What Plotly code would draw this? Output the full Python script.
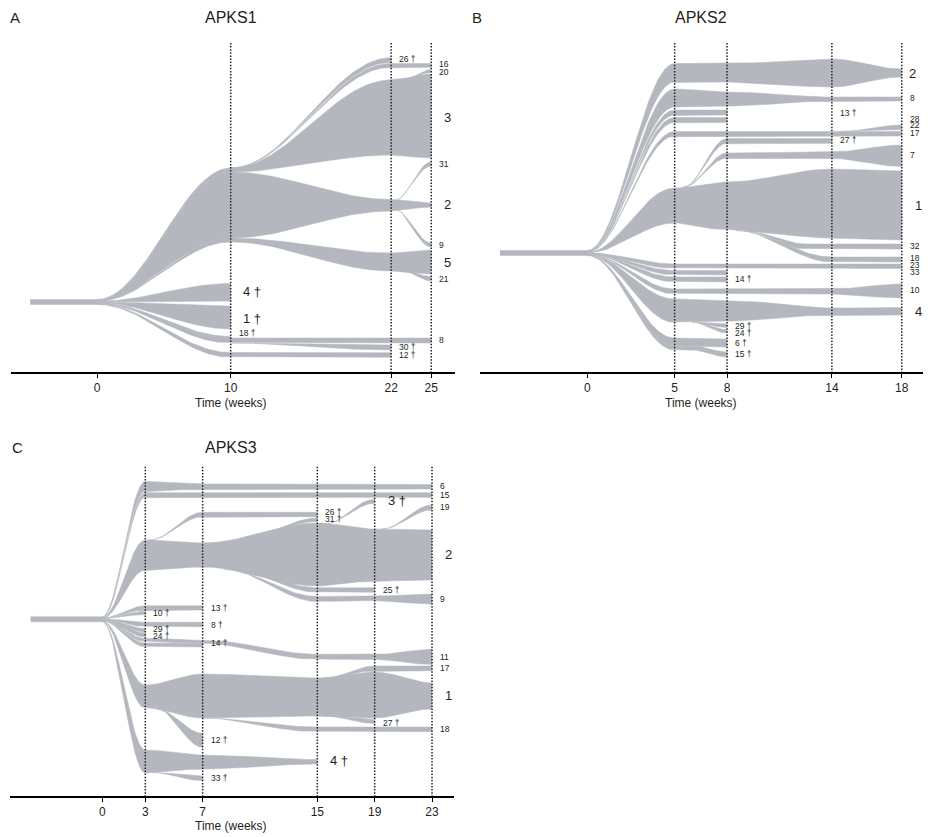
import numpy as np
import plotly.graph_objects as go

# ====================== DATA ======================
# Vertical positions are read from the picture (arbitrary fish-plot units, top = small).
# None in the first knot = clone leaves the trunk at week 0.

# ---------- Panel A : APKS1 ----------
A_timepoints = [0, 10, 22, 25]
A_trunk = [-5, 299.5, 304.5]          # start week, upper edge, lower edge
A_clones = ["3", "26", "16", "20", "2", "31", "9", "5", "21", "4", "1", "18", "8", "30", "12"]
A_knots = [[0, 10, 22, 25], [10, 22], [10, 22, 25], [23, 25], [0, 10, 22, 25], [22.2, 25], [22.2, 25],
           [0, 10, 22, 25], [23, 25], [0, 10], [0, 10], [0, 10], [0, 10, 22, 25], [10, 22], [0, 10, 22]]
A_upper = [[None, 168, 80, 74], [168, 57.7], [168, 63.5, 63.5], [79, 69.5], [None, 172, 199.5, 203],
           [201, 162], [209, 243], [None, 238, 253, 250], [271.5, 276.5], [None, 283.5], [None, 306],
           [None, 336.5], [None, 338, 338, 338], [343, 345], [None, 352.5, 352.7]]
A_lower = [[None, 172, 155, 158], [168, 62.5], [168, 67.3, 67.3], [79, 72.5], [None, 238, 211, 207],
           [201, 166], [209, 247], [None, 242, 271, 274], [271.5, 281], [None, 301], [None, 329],
           [None, 338], [None, 343, 343, 343], [343, 350], [None, 357.3, 357.3]]
A_label_text = ["16", "20", "3", "31", "2", "9", "5", "21", "8", "26 †", "30 †", "12 †", "4 †", "1 †", "18 †"]
A_label_week = [25, 25, 25, 25, 25, 25, 25, 25, 25, 22, 22, 22, 10, 10, 10]
A_label_pos = [64.3, 72, 117, 163.5, 204, 245, 262, 279, 340, 59, 347, 354.5, 291, 318, 333]
A_label_big = [0, 0, 1, 0, 1, 0, 1, 0, 0, 0, 0, 0, 1, 1, 0]

# ---------- Panel B : APKS2 ----------
B_timepoints = [0, 5, 8, 14, 18]
B_trunk = [-5, 250.5, 255.5]
B_clones = ["2", "8", "13", "13b", "17", "28", "27", "7", "1", "32", "18", "23", "14", "14b", "10",
            "4", "29", "24", "6", "15"]
B_knots = [[0, 5, 8, 14, 18], [0, 5, 8, 14, 18], [0, 5, 8], [0, 5, 8], [0, 5, 14, 18], [14.5, 18],
           [5.5, 8, 14], [5.5, 8, 14, 18], [0, 5, 8, 14, 18], [9, 12.5, 18], [8.5, 14, 18], [0, 5, 18],
           [0, 5, 8], [0, 5, 8], [0, 5, 14, 18], [0, 5, 8, 14, 18], [6, 8], [6, 8], [0, 5, 8], [0, 5, 6, 8]]
B_upper = [[None, 63.5, 63.5, 59, 69], [None, 89, 92, 97, 97], [None, 110, 110], [None, 117.5, 117.5],
           [None, 131.5, 131.5, 131.5], [131.5, 125], [187, 138.5, 138.5], [187, 153, 152, 145],
           [None, 188, 182, 169, 171], [231, 244, 244], [230.5, 257, 257], [None, 264, 264],
           [None, 270.5, 270.5], [None, 277, 277], [None, 289, 289, 284], [None, 299, 300.5, 308, 307.5],
           [322, 324], [322, 329.5], [None, 338, 339], [None, 346, 346, 352]]
B_lower = [[None, 82, 82, 87, 77], [None, 107, 106, 101, 101], [None, 115, 115], [None, 122.5, 122.5],
           [None, 136, 136, 136], [131.5, 129.5], [187, 143.3, 143.3], [187, 158, 158.5, 166.5],
           [None, 223, 230, 238, 240], [231, 249, 249], [230.5, 262, 262], [None, 268.5, 268.5],
           [None, 275, 275], [None, 282, 282], [None, 294, 294, 298], [None, 322.5, 321, 315, 315],
           [322, 327.5], [322, 333], [None, 346, 347], [None, 350, 350, 357]]
B_label_text = ["2", "8", "13 †", "28", "22", "17", "27 †", "7", "1", "32", "18", "23", "33", "14 †",
                "10", "4", "29 †", "24 †", "6 †", "15 †"]
B_label_week = [18, 18, 14, 18, 18, 18, 14, 18, 18, 18, 18, 18, 18, 8, 18, 18, 8, 8, 8, 8]
B_label_pos = [73, 98.3, 113, 119.3, 125, 133.3, 140, 155, 205, 246, 258.3, 265, 271.7, 279.3,
               290, 311, 326, 333, 343, 354]
B_label_big = [1, 0, 0, 0, 0, 0, 0, 0, 1, 0, 0, 0, 0, 0, 0, 1, 0, 0, 0, 0]

# ---------- Panel C : APKS3 ----------
C_timepoints = [0, 3, 7, 15, 19, 23]
C_trunk = [-5, 616.8, 621.8]
C_clones = ["6", "15", "26", "31", "3", "19", "2", "25", "9", "13", "10", "8", "29", "24", "11", "14",
            "17", "1", "27", "18", "12", "4", "33"]
C_knots = [[0, 3, 7, 15, 23], [0, 3, 23], [3.3, 7, 15], [10, 15], [15.5, 19], [19.5, 23],
           [0, 3, 7, 15, 19, 23], [9, 15, 19], [8.5, 15, 19, 23], [0, 3, 7], [0, 3], [0, 3, 7], [0, 3],
           [0, 3], [0, 3, 7, 15, 19, 23], [0, 3, 7], [15.5, 19, 23], [0, 3, 7, 15, 19, 23], [15.5, 19],
           [7, 15, 23], [3.8, 7], [0, 3, 7, 15], [3.5, 7]]
C_upper = [[None, 481.5, 484, 484.5, 484.5], [None, 492.7, 492.7], [540, 512.3, 512.3], [537, 518],
           [524, 499.3], [529, 505], [None, 540, 543, 523, 529, 530], [569.5, 587.7, 587.7],
           [569.5, 596.5, 596, 594], [None, 605.7, 605.7], [None, 611.3], [None, 622.3, 622.3],
           [None, 628.5], [None, 633], [None, 638.5, 640, 654.3, 654.5, 649.3], [None, 643, 643.5],
           [678, 666, 666], [None, 685, 674, 678, 672, 683], [716, 719.5], [718, 727, 727],
           [709, 733.3], [None, 750, 755, 759.5], [772.5, 776]]
C_lower = [[None, 491, 489.3, 489, 489], [None, 497.3, 497.3], [540, 516.7, 516.7], [537, 521.5],
           [524, 503.3], [529, 510], [None, 570, 567, 586, 581, 580], [569.5, 592.3, 592.3],
           [569.5, 601.5, 600.5, 604], [None, 610, 610], [None, 614.5], [None, 626.7, 626.7],
           [None, 632], [None, 637], [None, 641.8, 643.3, 659.3, 659.5, 664.5], [None, 647, 647],
           [678, 670.7, 670.7], [None, 708, 718, 716, 718, 709], [716, 723.5], [718, 731.7, 731.7],
           [709, 747.3], [None, 773, 769, 764], [772.5, 780.7]]
C_label_text = ["6", "15", "19", "2", "9", "11", "17", "1", "18", "3 †", "26 †", "31 †", "25 †", "27 †",
                "13 †", "8 †", "14 †", "12 †", "33 †", "10 †", "29 †", "24 †", "4 †"]
C_label_week = [23, 23, 23, 23, 23, 23, 23, 23, 23, 19, 15, 15, 19, 19, 7, 7, 7, 7, 7, 3, 3, 3, 15]
C_label_pos = [486, 495.3, 507.3, 554, 599, 656.7, 668.3, 695, 729.3, 500.7, 512.3, 519, 590, 723.3,
               607.7, 624.7, 643.3, 740, 777.7, 613.3, 629.3, 636, 760.7]
C_label_big = [0, 0, 0, 1, 0, 0, 0, 1, 0, 1, 0, 0, 0, 0, 0, 0, 0, 0, 0, 0, 0, 0, 1]

titles = ["APKS1", "APKS2", "APKS3"]
letters = ["A", "B", "C"]

# ====================== STYLE / GEOMETRY ======================
W, H = 928, 837
FILL = "#b4b8be"
INK = "#231f20"
FONT = "Liberation Sans, Arial, Helvetica, sans-serif"

# pixel geometry of each panel: x-pixel span, pixel of week 0, px per week, y-pixel span (top, axis)
geom = [
    dict(xpx=(11, 455), x0=97.0, ppw=13.37, ypx=(40, 372), vtop=43, title=(231, 17), letter=(15, 17), xt=(231, 403)),
    dict(xpx=(480, 923), x0=587.3, ppw=17.47, ypx=(40, 372), vtop=43, title=(701, 17), letter=(477, 17), xt=(701, 403)),
    dict(xpx=(10, 454), x0=102.3, ppw=14.335, ypx=(463, 796), vtop=466.7, title=(231, 447), letter=(17, 447), xt=(231, 826)),
]
big_shift = [[10.5], [5, 11, 11], [11]]


def ease(u):
    return (1 - np.cos(np.pi * u)) / 2


def edge_curve(ts, ys, n=60):
    xs, vs = [], []
    for i in range(len(ts) - 1):
        u = np.linspace(0, 1, n)
        x = ts[i] + (ts[i + 1] - ts[i]) * u
        y = ys[i] + (ys[i + 1] - ys[i]) * ease(u)
        if i > 0:
            x, y = x[1:], y[1:]
        xs.append(x)
        vs.append(y)
    return np.concatenate(xs), np.concatenate(vs)


def trunk_fill(trunk, upper, lower):
    up = [list(u) for u in upper]
    lo = [list(l) for l in lower]
    starters = [i for i, u in enumerate(up) if u[0] is None]
    starters.sort(key=lambda i: up[i][1])
    h = (trunk[2] - trunk[1]) / len(starters)
    for k, i in enumerate(starters):
        up[i][0] = trunk[1] + k * h
        lo[i][0] = trunk[1] + (k + 1) * h
    return up, lo


panels = [
    (A_timepoints, A_trunk, A_clones, A_knots, A_upper, A_lower, A_label_text, A_label_week, A_label_pos, A_label_big),
    (B_timepoints, B_trunk, B_clones, B_knots, B_upper, B_lower, B_label_text, B_label_week, B_label_pos, B_label_big),
    (C_timepoints, C_trunk, C_clones, C_knots, C_upper, C_lower, C_label_text, C_label_week, C_label_pos, C_label_big),
]

fig = go.Figure()
layout = dict(width=W, height=H, margin=dict(l=0, r=0, t=0, b=0), paper_bgcolor="white",
              plot_bgcolor="white", showlegend=False, font=dict(family=FONT, color=INK))
shapes, annotations = [], []

for p, (tps, trunk, names, knots, upper, lower, ltext, lweek, lpos, lbig) in enumerate(panels):
    g = geom[p]
    sfx = "" if p == 0 else str(p + 1)
    xa, ya = "x" + sfx, "y" + sfx
    xr = [(g["xpx"][0] - g["x0"]) / g["ppw"], (g["xpx"][1] - g["x0"]) / g["ppw"]]
    layout["xaxis" + sfx] = dict(
        domain=[g["xpx"][0] / W, g["xpx"][1] / W], range=xr, anchor=ya,
        tickvals=tps, ticktext=[str(t) for t in tps], ticks="outside", ticklen=4, tickwidth=1.2,
        tickcolor="black", showline=True, linecolor="black", linewidth=1.5, showgrid=False,
        zeroline=False, tickfont=dict(size=12, family=FONT, color=INK), fixedrange=True)
    layout["yaxis" + sfx] = dict(
        domain=[1 - g["ypx"][1] / H, 1 - g["ypx"][0] / H], range=[g["ypx"][1], g["ypx"][0]],
        anchor=xa, visible=False, fixedrange=True)

    # trunk
    fig.add_trace(go.Scatter(x=[trunk[0], 0.02, 0.02, trunk[0]], y=[trunk[1], trunk[1], trunk[2], trunk[2]],
                             fill="toself", fillcolor=FILL, mode="lines", line=dict(color=FILL, width=0.5),
                             hoverinfo="skip", xaxis=xa, yaxis=ya))
    up, lo = trunk_fill(trunk, upper, lower)
    for name, ts, u, l in zip(names, knots, up, lo):
        xt, yt = edge_curve(ts, u)
        xb, yb = edge_curve(ts, l)
        fig.add_trace(go.Scatter(x=np.concatenate([xt, xb[::-1]]), y=np.concatenate([yt, yb[::-1]]),
                                 fill="toself", fillcolor=FILL, mode="lines",
                                 line=dict(color=FILL, width=0.5), name=name,
                                 hoverinfo="skip", xaxis=xa, yaxis=ya))

    # dotted sampling lines
    for t in tps[1:]:
        shapes.append(dict(type="line", xref=xa, yref=ya, x0=t, x1=t, y0=g["vtop"], y1=g["ypx"][1],
                           line=dict(color="#222222", width=1.5, dash="1.5px,1.6px"), layer="above"))

    # clone labels
    bi = 0
    for txt, wk, yp, big in zip(ltext, lweek, lpos, lbig):
        if big:
            shifts = big_shift[p]
            xs = shifts[bi] if bi < len(shifts) else shifts[-1]
            bi += 1
        else:
            xs = 6
        annotations.append(dict(x=wk, y=yp, xref=xa, yref=ya, text=txt, showarrow=False,
                                xanchor="left", yanchor="middle", xshift=xs,
                                font=dict(size=13 if big else 8.5, family=FONT, color=INK)))

    # titles
    annotations.append(dict(x=g["title"][0] / W, y=1 - g["title"][1] / H, xref="paper", yref="paper",
                            text=titles[p], showarrow=False, xanchor="center", yanchor="middle",
                            font=dict(size=16, family=FONT, color=INK)))
    annotations.append(dict(x=g["letter"][0] / W, y=1 - g["letter"][1] / H, xref="paper", yref="paper",
                            text=letters[p], showarrow=False, xanchor="center", yanchor="middle",
                            font=dict(size=15, family=FONT, color=INK)))
    annotations.append(dict(x=g["xt"][0] / W, y=1 - g["xt"][1] / H, xref="paper", yref="paper",
                            text="Time (weeks)", showarrow=False, xanchor="center", yanchor="middle",
                            font=dict(size=12, family=FONT, color=INK)))

layout["shapes"] = shapes
layout["annotations"] = annotations
fig.update_layout(**layout)
fig.write_html("out.html")
